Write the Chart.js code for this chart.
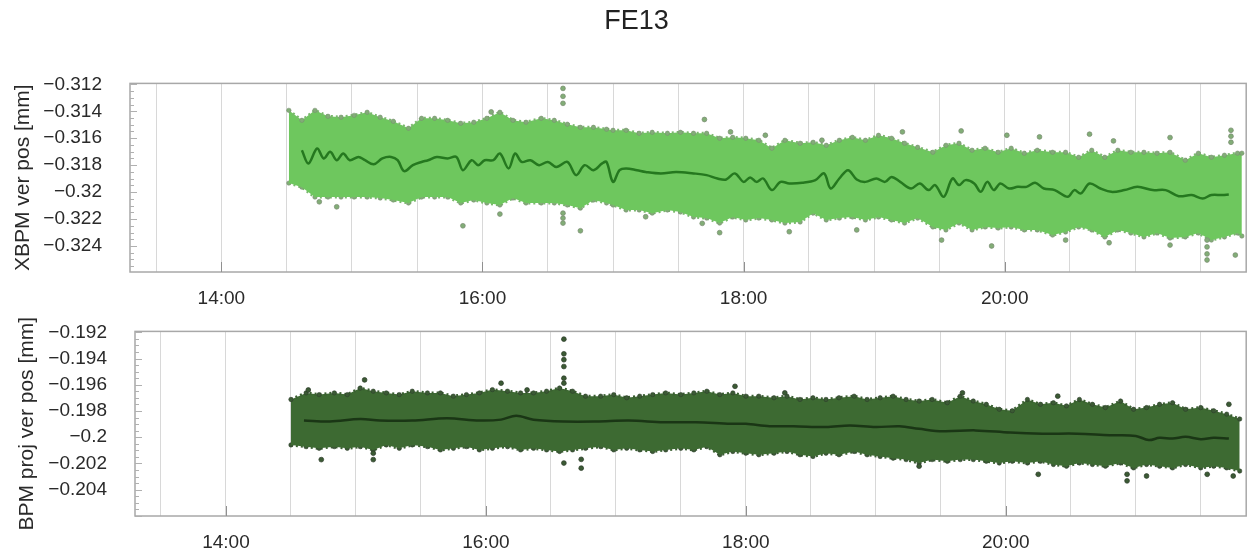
<!DOCTYPE html>
<html>
<head>
<meta charset="utf-8">
<script src="https://cdn.jsdelivr.net/npm/chart.js@4.4.1/dist/chart.umd.min.js"></script>
<style>
  html, body { margin: 0; padding: 0; background: #fff; overflow: hidden; }
  #wrap { position: relative; width: 1251px; height: 556px; }
  #top { position: absolute; left: 0; top: 0; }
  #bottom { position: absolute; left: 0; top: 300px; }
</style>
</head>
<body>
<div id="wrap">
  <canvas id="top" width="1251" height="320"></canvas>
  <canvas id="bottom" width="1251" height="256"></canvas>
</div>
<script>
// times are minutes since midnight
const gridTimes = [810, 840, 870, 900, 930, 960, 990, 1020, 1050, 1080, 1110, 1140, 1170, 1200, 1230, 1260, 1290];
const xTickTimes = [840, 960, 1080, 1200];
const xTickLabels = ["14:00", "16:00", "18:00", "20:00"];

// ---- XBPM panel ----
const topTicks = [-0.312, -0.314, -0.316, -0.318, -0.32, -0.322, -0.324];
const topTickLabels = ["\u22120.312", "\u22120.314", "\u22120.316", "\u22120.318", "\u22120.32", "\u22120.322", "\u22120.324"];

const topBandTimes = [871, 877, 883, 889, 895, 901, 907, 913, 919, 926, 932, 938, 944, 950, 956, 962, 968, 974, 980, 987, 993, 999, 1005, 1011, 1017,
  1020, 1026, 1032, 1038, 1045, 1051, 1057, 1063, 1069, 1075, 1081, 1087, 1093, 1099, 1106, 1112, 1118, 1124, 1130, 1136, 1142, 1148, 1154, 1160,
  1167, 1173, 1179, 1185, 1191, 1197, 1203, 1209, 1215, 1222, 1228, 1234, 1240, 1246, 1252, 1258, 1264, 1270, 1276, 1283, 1289, 1295, 1301, 1307, 1309];
const topUpper = [-0.31393, -0.31467, -0.31393, -0.31437, -0.31444, -0.3143, -0.31407, -0.31444, -0.31474, -0.31526, -0.31452, -0.31452, -0.31467, -0.31489, -0.31481, -0.31452, -0.31407, -0.31467, -0.31481, -0.31452, -0.31467, -0.31496, -0.31519, -0.31519, -0.31533,
  -0.31541, -0.31541, -0.31563, -0.31556, -0.31563, -0.31556, -0.31563, -0.31563, -0.316, -0.31593, -0.316, -0.31615, -0.31674, -0.31615, -0.31637, -0.3163, -0.31652, -0.31615, -0.31593, -0.31615, -0.31578, -0.316, -0.31637, -0.31667,
  -0.31704, -0.31652, -0.31637, -0.31689, -0.31674, -0.31704, -0.31674, -0.31711, -0.31689, -0.31704, -0.31704, -0.31741, -0.31689, -0.31741, -0.31689, -0.31704, -0.31704, -0.31711, -0.31704, -0.31763, -0.31711, -0.31741, -0.31726, -0.31711,
  -0.31711];
const topLower = [-0.31933, -0.31963, -0.32037, -0.32037, -0.32037, -0.32037, -0.32037, -0.32044, -0.32059, -0.32081, -0.32037, -0.32037, -0.32037, -0.32081, -0.32059, -0.32081, -0.32096, -0.32044, -0.32081, -0.32081, -0.32081, -0.32096, -0.32119, -0.32059, -0.32081,
  -0.32096, -0.32133, -0.32133, -0.32156, -0.32133, -0.32148, -0.32185, -0.32193, -0.3223, -0.32185, -0.32207, -0.32193, -0.32207, -0.3223, -0.32222, -0.32156, -0.32207, -0.32193, -0.32185, -0.32207, -0.32185, -0.32207, -0.3223, -0.32193,
  -0.32259, -0.32281, -0.3223, -0.32281, -0.32259, -0.32267, -0.32259, -0.32281, -0.32281, -0.32319, -0.32296, -0.32259, -0.32281, -0.32333, -0.32281, -0.32304, -0.32333, -0.32304, -0.32341, -0.32333, -0.32304, -0.32356, -0.32333, -0.32304,
  -0.32326];

const topMeanTimes = [877, 880, 884, 887, 890, 893, 896, 899, 903, 906, 910, 914, 918, 921, 924, 928, 932, 935, 939, 944, 948, 951, 955, 958, 961, 965, 968, 972, 975, 978,
  982, 986, 990, 994, 999, 1003, 1007, 1011, 1015, 1017, 1020, 1023, 1026, 1031, 1035, 1042, 1049, 1057, 1063, 1068, 1072, 1076, 1080, 1083, 1086, 1089, 1093, 1097, 1101, 1107,
  1113, 1117, 1120, 1124, 1128, 1132, 1136, 1141, 1145, 1148, 1152, 1157, 1161, 1165, 1168, 1172, 1176, 1179, 1182, 1186, 1189, 1192, 1195, 1198, 1202, 1206, 1210, 1214, 1218, 1223,
  1229, 1232, 1235, 1239, 1244, 1249, 1255, 1261, 1268, 1274, 1280, 1286, 1291, 1295, 1300, 1303];
const topMeanValues = [-0.31689, -0.31787, -0.31676, -0.3175, -0.31701, -0.31763, -0.31713, -0.31763, -0.31739, -0.31763, -0.31793, -0.3175, -0.31739, -0.31763, -0.31844, -0.318, -0.31776, -0.31763, -0.31739, -0.3175,
  -0.31739, -0.31837, -0.31763, -0.318, -0.31763, -0.31763, -0.31713, -0.31824, -0.31713, -0.31776, -0.31763, -0.318, -0.31776, -0.31813, -0.31776, -0.31874, -0.318, -0.31837, -0.31787, -0.31776,
  -0.31924, -0.31837, -0.31824, -0.31837, -0.3185, -0.31861, -0.3185, -0.31861, -0.31874, -0.31899, -0.31906, -0.31861, -0.31924, -0.31891, -0.31924, -0.31899, -0.31985, -0.31924, -0.31936, -0.31931,
  -0.31911, -0.31861, -0.31973, -0.31899, -0.31837, -0.31906, -0.31924, -0.31899, -0.31924, -0.31887, -0.31924, -0.31973, -0.31936, -0.31985, -0.31948, -0.32035, -0.31899, -0.31948, -0.31911, -0.31936,
  -0.31998, -0.31924, -0.31985, -0.31936, -0.31973, -0.31961, -0.31961, -0.31931, -0.31973, -0.31985, -0.32035, -0.31985, -0.3201, -0.31936, -0.31973, -0.31998, -0.31985, -0.31961, -0.31985, -0.31985,
  -0.3203, -0.32022, -0.32047, -0.32022, -0.32022, -0.32017];

const topOutTimes = [997, 997, 997, 964, 1062, 1074, 1090, 1116, 1153, 1180, 1201, 1216, 1239, 1250, 1276, 1304, 1304, 1304,
  893, 885, 951, 968, 997, 997, 997, 1005, 1035, 1061, 1069, 1101, 1132, 1171, 1194, 1228, 1248, 1276, 1293, 1293, 1293, 1293, 1306];
const topOutValues = [-0.3123, -0.31289, -0.31341, -0.31405, -0.31461, -0.31553, -0.31578, -0.31615, -0.31553, -0.31546, -0.31578, -0.3159, -0.3157, -0.3162, -0.31595, -0.31541, -0.31585, -0.3163,
  -0.32109, -0.32072, -0.3225, -0.32163, -0.32156, -0.32193, -0.3223, -0.32287, -0.32183, -0.32232, -0.32301, -0.32294, -0.32281, -0.32356, -0.324, -0.32356, -0.32376, -0.32393, -0.32356, -0.32407, -0.32459, -0.32504, -0.32467];

// ---- BPM panel ----
const bottomTicks = [-0.192, -0.194, -0.196, -0.198, -0.2, -0.202, -0.204];
const bottomTickLabels = ["\u22120.192", "\u22120.194", "\u22120.196", "\u22120.198", "\u22120.2", "\u22120.202", "\u22120.204"];

const bottomBandTimes = [870, 877, 883, 890, 896, 902, 908, 914, 920, 926, 933, 939, 945, 951, 957, 963, 970, 976, 982, 988, 994, 1000, 1006, 1013, 1019, 1025, 1031, 1037, 1043, 1050, 1056, 1062, 1068, 1074, 1080, 1086,
  1093, 1099, 1105, 1111, 1117, 1123, 1130, 1136, 1142, 1148, 1154, 1160, 1166, 1173, 1179, 1185, 1191, 1197, 1203, 1210, 1216, 1222, 1228, 1234, 1240, 1246, 1253, 1259, 1265, 1271, 1277, 1283, 1290, 1296, 1302, 1308];
const bottomUpper = [-0.19712, -0.19662, -0.19675, -0.19662, -0.19675, -0.19625, -0.19649, -0.19662, -0.19675, -0.19649, -0.19662, -0.19662, -0.19687, -0.19675, -0.19662, -0.19637, -0.19649, -0.19662, -0.19662, -0.19649, -0.19625, -0.19649, -0.19687, -0.19687, -0.19675, -0.19699, -0.19687, -0.19675, -0.19662, -0.19675, -0.19662, -0.19649, -0.19675, -0.19662, -0.19687, -0.19687,
  -0.19699, -0.19687, -0.19712, -0.19699, -0.19712, -0.19699, -0.19687, -0.19712, -0.19699, -0.19687, -0.19712, -0.19724, -0.19712, -0.19737, -0.19687, -0.19724, -0.19749, -0.19787, -0.19798, -0.19712, -0.19749, -0.19737, -0.19761, -0.19712, -0.19749, -0.19774, -0.19724, -0.19787, -0.19774, -0.19749, -0.19737, -0.19787, -0.19774, -0.19798, -0.19824, -0.19861];
const bottomLower = [-0.20059, -0.20072, -0.20085, -0.20072, -0.20085, -0.20072, -0.20097, -0.20059, -0.20085, -0.20059, -0.20072, -0.20097, -0.20085, -0.20072, -0.20097, -0.20085, -0.20072, -0.20097, -0.20085, -0.20097, -0.20109, -0.20097, -0.20085, -0.20072, -0.20097, -0.20085, -0.20097, -0.20109, -0.20097, -0.20085, -0.20097, -0.20072, -0.20134, -0.20109, -0.20122, -0.20134,
  -0.20122, -0.20109, -0.20134, -0.20147, -0.20122, -0.20134, -0.20109, -0.20134, -0.20147, -0.2016, -0.20171, -0.20197, -0.20171, -0.20184, -0.20171, -0.20171, -0.20184, -0.20197, -0.20184, -0.20197, -0.20184, -0.20208, -0.20221, -0.20197, -0.20208, -0.20221, -0.20197, -0.20234, -0.20208, -0.20221, -0.20234, -0.20208, -0.20234, -0.20221, -0.20234, -0.20258];

const bottomMeanTimes = [876, 888, 902, 911, 926, 942, 957, 967, 974, 982, 996, 1011, 1026, 1042, 1057, 1073, 1080, 1091,
  1102, 1117, 1128, 1140, 1151, 1160, 1171, 1186, 1202, 1217, 1233, 1248, 1260, 1266, 1271, 1277, 1283, 1290, 1296, 1303];
const bottomMeanValues = [-0.19873, -0.1988, -0.19861, -0.19873, -0.19873, -0.19856, -0.19873, -0.19866, -0.19836, -0.19866, -0.1988, -0.1988, -0.19873, -0.19886, -0.19886, -0.19898, -0.19898, -0.19916,
  -0.19916, -0.19923, -0.1991, -0.19923, -0.19916, -0.19936, -0.19955, -0.19948, -0.19965, -0.19973, -0.19973, -0.19985, -0.1999, -0.20022, -0.20005, -0.2001, -0.19997, -0.20015, -0.20005, -0.2001];

const bottomOutTimes = [996, 996, 996, 996, 996, 996, 996, 1004, 1004, 884, 908, 908, 878, 904, 967, 979, 1075, 1098, 1180, 1224, 1303, 1160, 1215, 1256, 1265, 1293, 1305, 1256];
const bottomOutValues = [-0.19252, -0.19364, -0.19409, -0.19461, -0.1955, -0.19588, -0.20197, -0.20169, -0.20236, -0.20171, -0.20122, -0.20171, -0.1964, -0.19563, -0.19588, -0.1964, -0.19612, -0.19662, -0.19662, -0.19687, -0.19749, -0.20221, -0.20283, -0.20283, -0.20296, -0.20283, -0.20296, -0.20333];

const FONT = "'Liberation Sans', Arial, Helvetica, sans-serif";

function pts(times, values) {
  return times.map((t, i) => ({ x: t, y: values[i] }));
}

// box round the plot, small inward ticks on the left and at the labelled hours
const framePlugin = {
  id: "frame",
  afterDatasetsDraw(chart, args, opts) {
    const { ctx, chartArea: a, scales } = chart;
    const y = scales.y, x = scales.x;
    ctx.save();
    ctx.strokeStyle = "#a8a8a8";
    ctx.lineWidth = 1.5;
    ctx.strokeRect(a.left, a.top, a.right - a.left, a.bottom - a.top);
    ctx.lineWidth = 1;
    ctx.strokeStyle = "#b0b0b0";
    const first = opts.ticks[0];
    for (let k = 0; ; k++) {
      const v = first - k * 0.0005;
      if (v < y.min) break;
      const py = Math.round(y.getPixelForValue(v)) + 0.5;
      const len = k % 4 === 0 ? 7 : 4;
      ctx.beginPath();
      ctx.moveTo(a.left, py);
      ctx.lineTo(a.left + len, py);
      ctx.stroke();
    }
    ctx.strokeStyle = "#909090";
    xTickTimes.forEach(t => {
      const px = Math.round(x.getPixelForValue(t)) + 0.5;
      ctx.beginPath();
      ctx.moveTo(px, a.bottom);
      ctx.lineTo(px, a.bottom - 10);
      ctx.stroke();
    });
    ctx.restore();
  }
};

function edgeSet(label, times, values, cfg, fill) {
  return {
    label: label,
    data: pts(times, values),
    showLine: true,
    borderColor: cfg.edgeColor,
    borderWidth: 3,
    borderDash: [2, 3],
    pointRadius: 2.2,
    pointBackgroundColor: cfg.dotColor,
    pointBorderColor: cfg.dotEdge,
    pointBorderWidth: 0.6,
    fill: fill,
    backgroundColor: cfg.bandColor
  };
}

function makePanel(id, cfg) {
  return new Chart(document.getElementById(id), {
    type: "scatter",
    data: {
      datasets: [
        {
          label: "mean",
          data: pts(cfg.meanTimes, cfg.meanValues),
          showLine: true,
          borderColor: cfg.meanColor,
          borderWidth: 2.5,
          tension: 0.35,
          pointRadius: 0
        },
        {
          label: "outliers",
          data: pts(cfg.outTimes, cfg.outValues),
          pointRadius: 2.4,
          pointBackgroundColor: cfg.dotColor,
          pointBorderColor: cfg.dotEdge,
          pointBorderWidth: 0.8
        },
        edgeSet("upper", cfg.bandTimes, cfg.upper, cfg, "+1"),
        edgeSet("lower", cfg.bandTimes, cfg.lower, cfg, false)
      ]
    },
    options: {
      responsive: false,
      animation: false,
      layout: { padding: cfg.padding },
      plugins: {
        legend: { display: false },
        tooltip: { enabled: false },
        title: cfg.title,
        frame: { ticks: cfg.ticks }
      },
      scales: {
        x: {
          type: "linear",
          min: 798,
          max: 1311,
          afterBuildTicks: s => { s.ticks = gridTimes.map(v => ({ value: v })); },
          afterFit: s => { s.height = cfg.xHeight; },
          grid: { color: "#d8d8d8", lineWidth: 1, drawTicks: false },
          border: { display: false },
          ticks: {
            autoSkip: false,
            maxRotation: 0,
            padding: 15,
            color: "#2a2a2a",
            font: { family: FONT, size: 19 },
            callback: v => {
              const i = xTickTimes.indexOf(v);
              return i >= 0 ? xTickLabels[i] : "";
            }
          }
        },
        y: {
          type: "linear",
          min: cfg.yMin,
          max: cfg.yMax,
          afterBuildTicks: s => { s.ticks = cfg.ticks.map(v => ({ value: v })); },
          afterFit: s => { s.width = cfg.yWidth; },
          grid: { display: false },
          border: { display: false },
          ticks: {
            padding: 20,
            color: "#2a2a2a",
            font: { family: FONT, size: 19 },
            callback: (v, i) => cfg.tickLabels[i]
          },
          title: {
            display: true,
            text: cfg.yTitle,
            color: "#2a2a2a",
            font: { family: FONT, size: 21 },
            padding: { top: cfg.yTitlePad, bottom: 0 }
          }
        }
      }
    },
    plugins: [framePlugin]
  });
}

makePanel("top", {
  bandTimes: topBandTimes, upper: topUpper, lower: topLower,
  meanTimes: topMeanTimes, meanValues: topMeanValues,
  outTimes: topOutTimes, outValues: topOutValues,
  bandColor: "#6ec75e", edgeColor: "#79b86c", dotColor: "#82ad77", dotEdge: "rgba(120,140,112,0.9)", meanColor: "#25781f",
  ticks: topTicks, tickLabels: topTickLabels,
  yMin: -0.32593, yMax: -0.31193,
  yTitle: "XBPM ver pos [mm]", yTitlePad: -12.6,
  yWidth: 107, xHeight: 48,
  padding: { left: 23, right: 1, top: 0, bottom: 0 },
  title: {
    display: true,
    text: "FE13",
    color: "#222",
    font: { family: FONT, size: 27, weight: "normal" },
    padding: { top: 5, bottom: 46 }
  }
});

makePanel("bottom", {
  bandTimes: bottomBandTimes, upper: bottomUpper, lower: bottomLower,
  meanTimes: bottomMeanTimes, meanValues: bottomMeanValues,
  outTimes: bottomOutTimes, outValues: bottomOutValues,
  bandColor: "#3d6a32", edgeColor: "#3a5f31", dotColor: "#3b5a34", dotEdge: "rgba(45,60,42,0.9)", meanColor: "#1a3615",
  ticks: bottomTicks, tickLabels: bottomTickLabels,
  yMin: -0.20601, yMax: -0.19193,
  yTitle: "BPM proj ver pos [mm]", yTitlePad: 14.4,
  yWidth: 135, xHeight: 40,
  padding: { left: 0, right: 1, top: 27, bottom: 0 },
  title: { display: false }
});
</script>
</body>
</html>
